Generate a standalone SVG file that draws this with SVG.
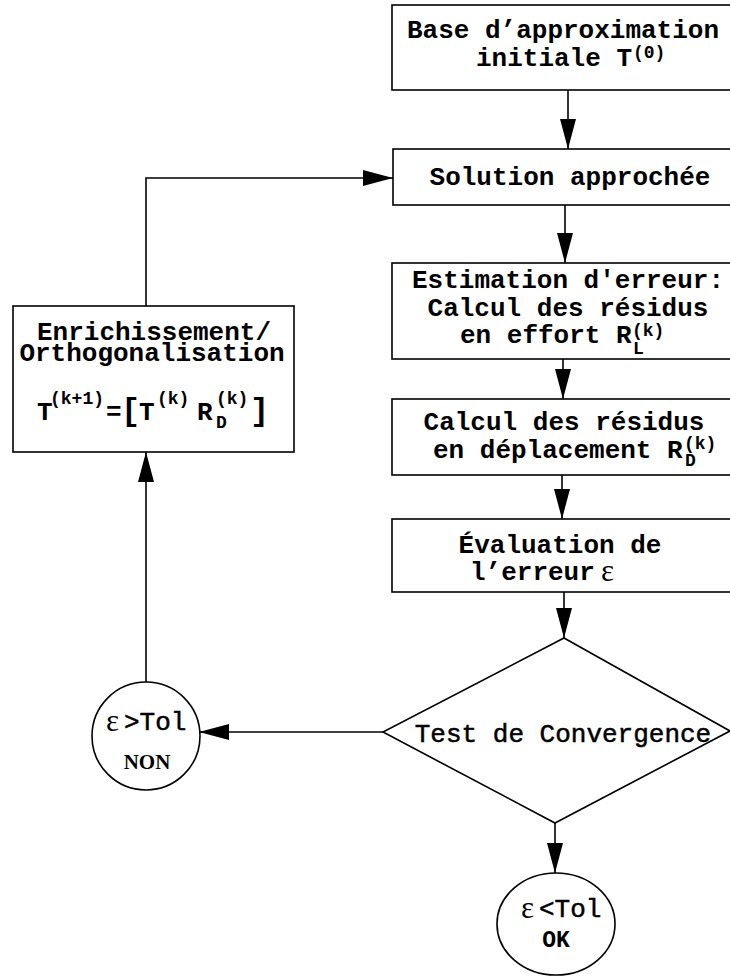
<svg xmlns="http://www.w3.org/2000/svg" width="730" height="977" viewBox="0 0 730 977">
<style>
.box{fill:#fff;stroke:#000;stroke-width:1.6}
.t{font-family:"Liberation Mono","Courier New",monospace;font-weight:bold;font-size:26px;fill:#000}
.n{font-weight:normal;stroke:#000;stroke-width:0.5}
.s{font-size:18px}
.eps{font-family:"Liberation Serif","Times New Roman",serif;font-size:31px;font-weight:normal;fill:#000}
.serif{font-family:"Liberation Serif","Times New Roman",serif;font-weight:bold;font-size:21px;fill:#000}
.conn line,.conn polyline{stroke:#000;stroke-width:1.6;fill:none}
</style>
<defs>
<marker id="arr" markerUnits="userSpaceOnUse" markerWidth="31" markerHeight="17" refX="30" refY="8" orient="auto">
<path d="M0,0 L30,8 L0,16 Z" fill="#000"/>
</marker>
</defs>
<rect width="730" height="977" fill="#fff"/>

<g class="conn">
<line x1="568" y1="90" x2="568" y2="149" marker-end="url(#arr)"/>
<line x1="565" y1="205" x2="565" y2="263" marker-end="url(#arr)"/>
<line x1="563" y1="359" x2="563" y2="399" marker-end="url(#arr)"/>
<line x1="562" y1="475" x2="562" y2="519" marker-end="url(#arr)"/>
<line x1="564" y1="592" x2="564" y2="638" marker-end="url(#arr)"/>
<line x1="555" y1="823" x2="555" y2="873" marker-end="url(#arr)"/>
<line x1="383" y1="732" x2="199" y2="732" marker-end="url(#arr)"/>
<line x1="146" y1="682" x2="146" y2="452" marker-end="url(#arr)"/>
<polyline points="146,306 146,178 393,178" marker-end="url(#arr)"/>
</g>

<g id="base">
<rect class="box" x="392" y="5" width="345" height="85"/>
<text class="t" x="563" y="38" text-anchor="middle">Base d’approximation</text>
<text class="t" x="476" y="66">initiale T</text>
<text class="t s" x="633" y="58">(0)</text>
</g>

<g id="solution">
<rect class="box" x="393" y="149" width="345" height="56"/>
<text class="t" x="570" y="185" text-anchor="middle">Solution approchée</text>
</g>

<g id="estimation">
<rect class="box" x="392" y="263" width="345" height="96"/>
<text class="t" x="568" y="288" text-anchor="middle">Estimation d'erreur:</text>
<text class="t" x="568" y="316" text-anchor="middle">Calcul des résidus</text>
<text class="t" x="460" y="343">en effort R</text>
<text class="t s" x="632" y="336">(k)</text>
<text class="t s" x="633" y="354">L</text>
</g>

<g id="deplacement">
<rect class="box" x="392" y="399" width="345" height="76"/>
<text class="t" x="564" y="430" text-anchor="middle">Calcul des résidus</text>
<text class="t" x="433" y="458">en déplacement R</text>
<text class="t s" x="684" y="449">(k)</text>
<text class="t s" x="685" y="466">D</text>
</g>

<g id="evaluation">
<rect class="box" x="392" y="519" width="345" height="73"/>
<text class="t" x="560" y="553" text-anchor="middle">Évaluation de</text>
<text class="t" x="470" y="580">l’erreur</text>
<text class="eps" x="601" y="581">ε</text>
</g>

<g id="test">
<polygon class="box" points="564,638 730,731 555,823 383,732"/>
<text class="t n" x="563" y="742" text-anchor="middle">Test de Convergence</text>
</g>

<g id="non">
<ellipse class="box" cx="146" cy="736" rx="54" ry="54"/>
<text class="eps" x="106" y="731">ε</text>
<text class="t n" x="124" y="730">&gt;Tol</text>
<text class="serif" x="147" y="769" text-anchor="middle">NON</text>
</g>

<g id="ok">
<ellipse class="box" cx="556" cy="924" rx="59" ry="51"/>
<text class="eps" x="521" y="918">ε</text>
<text class="t n" x="539" y="917">&lt;Tol</text>
<text class="t" x="556" y="947" text-anchor="middle" style="font-size:23px">OK</text>
</g>

<g id="enrichissement">
<rect class="box" x="13" y="306" width="281" height="146"/>
<text class="t" x="154" y="340" text-anchor="middle">Enrichissement/</text>
<text class="t" x="152" y="361" text-anchor="middle">Orthogonalisation</text>
<text class="t" x="37" y="420">T</text>
<text class="t s" x="50" y="404">(k+1)</text>
<text class="t" x="106" y="420">=</text>
<text class="t" x="121" y="420" style="font-size:32px">[</text>
<text class="t" x="139" y="420">T</text>
<text class="t s" x="157" y="404">(k)</text>
<text class="t" x="197" y="420">R</text>
<text class="t s" x="216" y="404">(k)</text>
<text class="t s" x="216" y="428">D</text>
<text class="t" x="250" y="420" style="font-size:32px">]</text>
</g>
</svg>
